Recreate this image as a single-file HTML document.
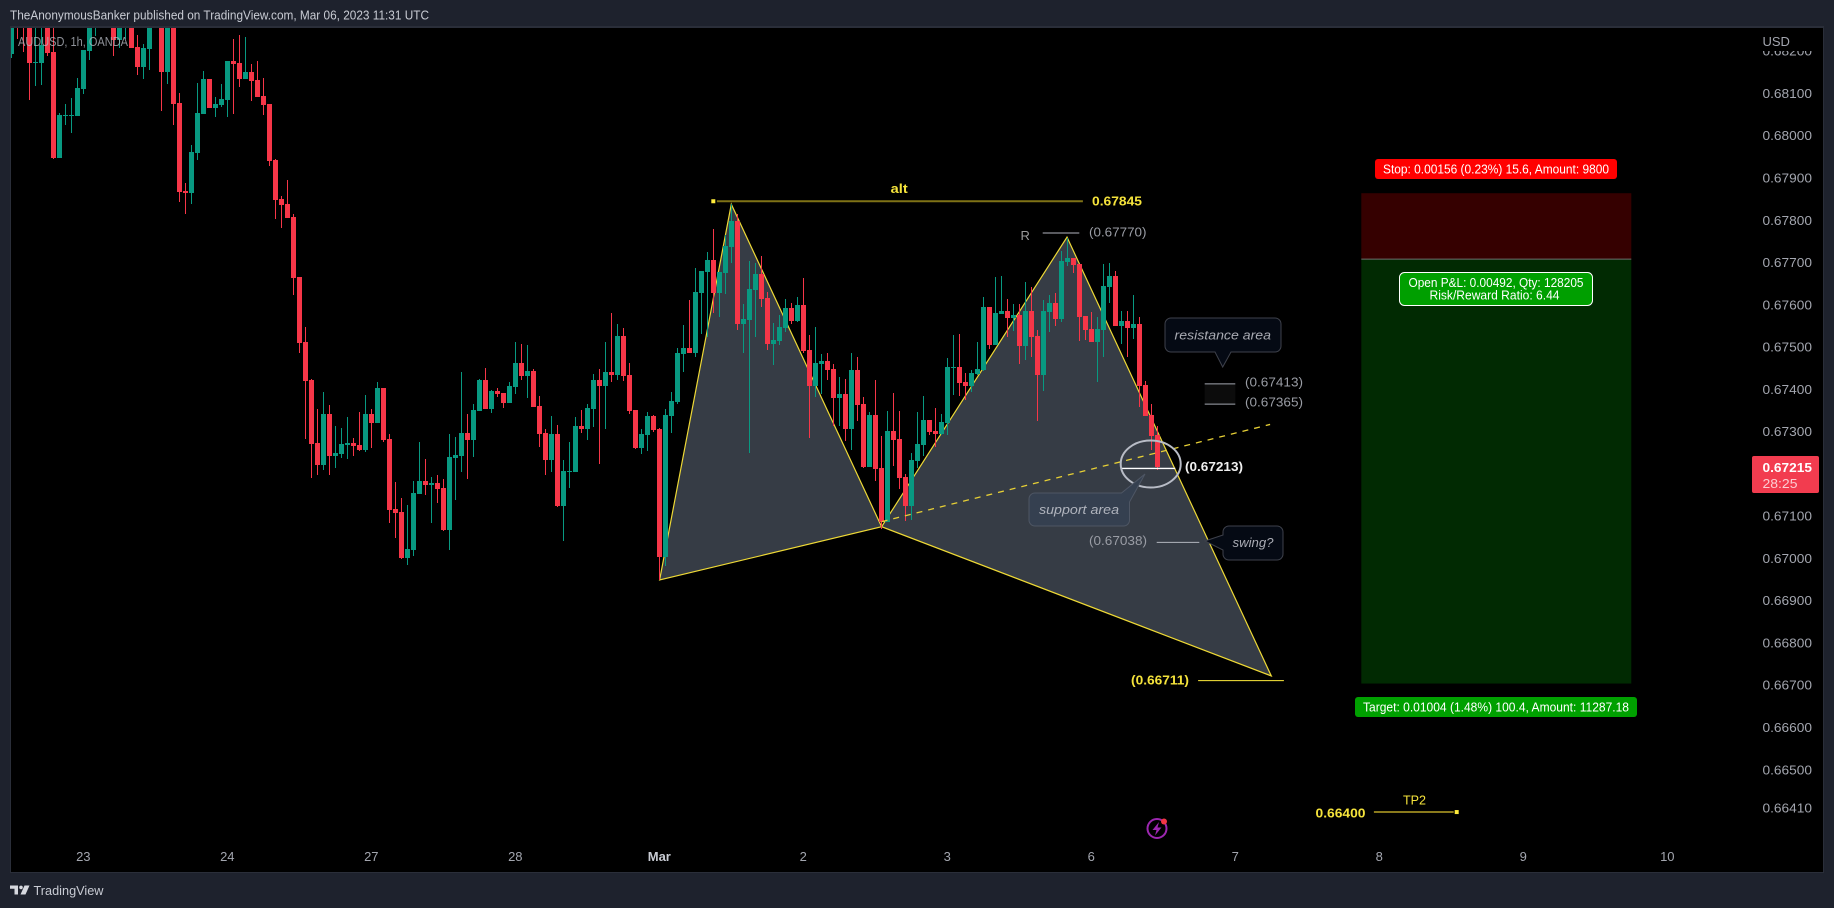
<!DOCTYPE html>
<html lang="en">
<head>
<meta charset="utf-8">
<title>AUDUSD 1h chart</title>
<style>
html,body{margin:0;padding:0;width:1834px;height:908px;overflow:hidden;background:#1e222d}
svg{display:block}
text{font-family:"Liberation Sans",sans-serif;font-size:13px}
</style>
</head>
<body>
<svg id="chart" xmlns="http://www.w3.org/2000/svg" width="1834" height="908" viewBox="0 0 1834 908">
  <defs><clipPath id="pane-clip"><rect x="11" y="28" width="1812" height="844"/></clipPath></defs>
  <rect x="0" y="0" width="1834" height="908" fill="#1e222d"/>
  <rect x="10" y="26" width="1814" height="847" fill="#2a2e39"/>
  <rect x="11" y="28" width="1812" height="844" fill="#000"/>
  <text x="10" y="19.5" textLength="419" lengthAdjust="spacingAndGlyphs" fill="#c8cbd3">TheAnonymousBanker published on TradingView.com, Mar 06, 2023 11:31 UTC</text>

  <g id="position-layer"></g>
  <g id="pattern-layer" clip-path="url(#pane-clip)"></g>
  <g id="candle-layer" clip-path="url(#pane-clip)" shape-rendering="crispEdges"></g>
  <g id="drawing-layer"></g>
  <g id="axis-layer"></g>

  <rect x="1755" y="29" width="66" height="22" fill="#000"/>
  <text x="1762.5" y="46" fill="#a3a6af">USD</text>
  <text x="18" y="46" textLength="110" lengthAdjust="spacingAndGlyphs" fill="#b2b5be" fill-opacity="0.8">AUDUSD, 1h, OANDA</text>

  <rect x="1375" y="159" width="242" height="20" rx="3" fill="#ff0000"/>
  <text x="1383" y="173.5" textLength="226" lengthAdjust="spacingAndGlyphs" fill="#fff">Stop: 0.00156 (0.23%) 15.6, Amount: 9800</text>
  <rect x="1399.5" y="272.5" width="193" height="33" rx="5" fill="#009f00" stroke="#fff"/>
  <text x="1408.5" y="287" textLength="175" lengthAdjust="spacingAndGlyphs" fill="#fff">Open P&amp;L: 0.00492, Qty: 128205</text>
  <text x="1429.5" y="299.5" textLength="130" lengthAdjust="spacingAndGlyphs" fill="#fff">Risk/Reward Ratio: 6.44</text>
  <rect x="1355" y="697" width="282" height="20" rx="3" fill="#00a000"/>
  <text x="1363" y="711.5" textLength="266" lengthAdjust="spacingAndGlyphs" fill="#fff">Target: 0.01004 (1.48%) 100.4, Amount: 11287.18</text>

  <text x="890.7" y="193" textLength="17" lengthAdjust="spacingAndGlyphs" font-weight="bold" fill="#f5e33b">alt</text>
  <text x="1092" y="205.5" textLength="50" lengthAdjust="spacingAndGlyphs" font-weight="bold" fill="#f5e33b">0.67845</text>
  <text x="1020.5" y="240" fill="#9a9a9a">R</text>
  <text x="1089" y="236.5" textLength="57.5" lengthAdjust="spacingAndGlyphs" fill="#9a9da5">(0.67770)</text>
  <text x="1245" y="386.5" textLength="58" lengthAdjust="spacingAndGlyphs" fill="#9a9da5">(0.67413)</text>
  <text x="1245" y="406.5" textLength="58" lengthAdjust="spacingAndGlyphs" fill="#9a9da5">(0.67365)</text>
  <text x="1185" y="471" textLength="58" lengthAdjust="spacingAndGlyphs" font-weight="bold" fill="#f0f0f0">(0.67213)</text>
  <text x="1089" y="545" textLength="58" lengthAdjust="spacingAndGlyphs" fill="#9a9da5">(0.67038)</text>
  <text x="1131" y="684.5" textLength="58" lengthAdjust="spacingAndGlyphs" font-weight="bold" fill="#f5e33b">(0.66711)</text>
  <text x="1403" y="804.5" textLength="23" lengthAdjust="spacingAndGlyphs" fill="#f5e33b">TP2</text>
  <text x="1315.5" y="817.5" textLength="50" lengthAdjust="spacingAndGlyphs" font-weight="bold" fill="#f5e33b">0.66400</text>

  <g>
    <path d="M1171 318H1275a6 6 0 0 1 6 6V346a6 6 0 0 1 -6 6H1231L1222.7 367L1215 352H1171a6 6 0 0 1 -6 -6V324a6 6 0 0 1 6 -6Z" fill="#050a14" stroke="#3e414b"/>
    <text x="1174.5" y="339.5" textLength="96.5" lengthAdjust="spacingAndGlyphs" font-style="italic" fill="#a9abb3">resistance area</text>
  </g>
  <g>
    <path d="M1035 493H1121.5L1145 474L1129.5 502V520a6 6 0 0 1 -6 6H1035a6 6 0 0 1 -6 -6V499a6 6 0 0 1 6 -6Z" fill="#354050" stroke="#4e5664"/>
    <text x="1039" y="514" textLength="80" lengthAdjust="spacingAndGlyphs" font-style="italic" fill="#b0b4bd">support area</text>
  </g>
  <g>
    <path d="M1229 526H1277a6 6 0 0 1 6 6V554a6 6 0 0 1 -6 6H1229a6 6 0 0 1 -6 -6V550L1205 541L1223 535V532a6 6 0 0 1 6 -6Z" fill="#050a14" stroke="#3e414b"/>
    <text x="1232.5" y="547" textLength="41" lengthAdjust="spacingAndGlyphs" font-style="italic" fill="#a9abb3">swing?</text>
  </g>

  <g>
    <rect x="1752" y="456" width="67" height="37" rx="2" fill="#f23c4f"/>
    <text x="1762.5" y="472" textLength="49.5" lengthAdjust="spacingAndGlyphs" font-weight="bold" font-size="13.5" fill="#fff">0.67215</text>
    <text x="1762.5" y="488" textLength="35" lengthAdjust="spacingAndGlyphs" fill="#fccdd2">28:25</text>
  </g>

  <g>
    <circle cx="1157" cy="828.5" r="9.5" fill="none" stroke="#9c27b0" stroke-width="2"/>
    <polygon points="1159,822 1152.5,830 1156.5,830 1155,835.5 1161.5,827.5 1157.5,827.5" fill="#9c27b0"/>
    <circle cx="1164" cy="821.5" r="3" fill="#f23645"/>
  </g>

  <g>
    <path d="M10 885.5H18V894.5H14.5V888.8H10Z" fill="#d6d8de"/>
    <circle cx="21" cy="887.4" r="1.8" fill="#d6d8de"/>
    <polygon points="24.5,885.5 29.5,885.5 25.5,894.5 20.5,894.5" fill="#d6d8de"/>
    <text x="33.5" y="895" textLength="70" lengthAdjust="spacingAndGlyphs" fill="#c8cbd3">TradingView</text>
  </g>
</svg>

<script>
// Prices are in points (1 point = 0.00001). Bars are numbered from 1, one bar per hour.
const opens = [
68193,68297,68297,68274,68173,68173,68297,68198,67947,68048,
68048,68047,68110,68201,68274,68274,68274,68286,68226,68274,
68286,68210,68163,68206,68274,68286,68151,68286,68077,67869,
67864,67959,68051,68134,68065,68073,68084,68177,68172,68134,
68151,68132,68094,68075,67942,67850,67838,67808,67666,67512,
67422,67273,67221,67342,67242,67247,67268,67273,67268,67256,
67342,67320,67403,67282,67117,67110,67001,67020,67152,67183,
67174,67178,67166,67067,67238,67242,67297,67280,67349,67422,
67353,67396,67391,67368,67405,67462,67432,67443,67361,67297,
67233,67294,67124,67204,67204,67313,67306,67353,67422,67408,
67441,67434,67526,67434,67351,67261,67292,67337,67306,67003,
67337,67370,67484,67498,67486,67628,67678,67706,67628,67675,
67737,67798,67555,67564,67635,67673,67616,67507,67514,67545,
67592,67562,67599,67493,67408,67460,67467,67448,67379,67389,
67306,67446,67365,67216,67339,67214,67086,67301,67282,67193,
67124,67230,67268,67327,67301,67294,67320,67452,67453,67417,
67408,67436,67446,67595,67505,67578,67585,67569,67576,67503,
67585,67526,67434,67583,67604,67566,67701,67711,67696,67573,
67543,67512,67540,67642,67668,67550,67562,67545,67555,67410,67339,67292];
const highs = [
68297,68309,68309,68297,68297,68297,68309,68297,68054,68075,
68089,68137,68203,68297,68297,68297,68297,68297,68297,68297,
68297,68238,68216,68297,68297,68297,68297,68297,68101,67888,
67978,68125,68153,68134,68092,68122,68177,68229,68238,68233,
68170,68177,68136,68075,67945,67857,67895,67815,67666,67547,
67424,67353,67394,67363,67313,67308,67335,67285,67346,67387,
67353,67417,67403,67294,67181,67143,67126,67183,67275,67235,
67193,67197,67188,67294,67287,67441,67342,67365,67424,67450,
67398,67403,67391,67417,67512,67507,67505,67448,67384,67306,
67337,67316,67233,67275,67335,67351,67365,67436,67448,67512,
67581,67555,67545,67462,67351,67306,67346,67339,67308,67353,
67394,67498,67552,67611,67687,67680,67725,67779,67678,67765,
67838,67815,67602,67704,67699,67715,67630,67557,67576,67614,
67604,67618,67663,67528,67547,67484,67486,67460,67429,67424,
67486,67476,67382,67346,67422,67290,67349,67391,67349,67200,
67249,67346,67384,67327,67356,67342,67474,67528,67531,67439,
67446,67512,67618,67595,67666,67668,67614,67602,67602,67654,
67642,67540,67611,67623,67628,67727,67758,67711,67696,67573,
67583,67571,67696,67699,67680,67585,67585,67623,67571,67420,67365,67313];
const lows = [
68184,68229,68198,68085,68118,68121,68189,67945,67947,68026,
68006,68047,68099,68179,68236,68269,68269,68189,68207,68229,
68208,68144,68135,68156,68269,68058,68122,68025,67843,67815,
67838,67942,68051,68065,68044,68068,68044,68051,68115,68134,
68082,68092,68049,67928,67803,67782,67805,67623,67486,67282,
67190,67197,67209,67197,67214,67238,67235,67242,67254,67252,
67261,67320,67275,67084,67048,66999,66984,67006,67152,67150,
67084,67131,67065,67020,67138,67204,67188,67240,67349,67353,
67344,67382,67356,67368,67389,67422,67379,67358,67264,67197,
67204,67122,67041,67166,67204,67297,67280,67311,67223,67306,
67417,67422,67420,67342,67259,67247,67254,67299,66949,66982,
67297,67365,67441,67486,67476,67531,67524,67580,67571,67625,
67699,67540,67486,67249,67524,67595,67493,67458,67505,67536,
67555,67559,67486,67285,67382,67389,67422,67313,67313,67278,
67256,67325,67214,67216,67183,67069,67086,67219,67164,67088,
67091,67214,67242,67292,67264,67292,67292,67387,67384,67375,
67394,67434,67443,67495,67505,67578,67524,67538,67460,67469,
67476,67325,67396,67536,67550,67559,67692,67675,67514,67517,
67512,67417,67476,67604,67550,67507,67476,67519,67358,67337,67256,67209];
const closes = [
68286,68274,68274,68173,68174,68215,68196,67947,68049,68050,
68050,68113,68203,68286,68286,68286,68286,68226,68286,68286,
68208,68163,68207,68286,68286,68151,68286,68075,67867,67864,
67961,68054,68134,68065,68075,68087,68177,68170,68134,68151,
68129,68092,68073,67940,67848,67836,67805,67663,67510,67420,
67271,67221,67342,67242,67249,67271,67273,67266,67256,67342,
67320,67403,67280,67114,67107,67001,67022,67155,67183,67174,
67178,67164,67067,67240,67245,67297,67280,67351,67422,67353,
67396,67389,67368,67408,67462,67432,67443,67358,67294,67233,
67294,67124,67207,67207,67313,67306,67356,67422,67408,67441,
67434,67526,67432,67349,67261,67294,67337,67304,67003,67339,
67372,67486,67498,67486,67630,67680,67706,67628,67678,67739,
67798,67555,67566,67637,67673,67614,67507,67517,67547,67592,
67562,67599,67491,67408,67462,67467,67446,67379,67389,67306,
67446,67363,67216,67339,67211,67086,67301,67280,67190,67124,
67233,67271,67327,67299,67294,67323,67453,67453,67415,67408,
67439,67448,67595,67505,67580,67585,67569,67576,67503,67585,
67524,67434,67585,67604,67566,67704,67711,67694,67571,67540,
67512,67543,67644,67668,67550,67562,67545,67555,67408,67337,67290,67216];

const priceTicks = [68200,68100,68000,67900,67800,67700,67600,67500,67400,67300,67100,67000,66900,66800,66700,66600,66500,66410];
const timeTickBars = [13,37,61,85,109,133,157,181,205,229,253,277];
const timeTickLabels = ['23','24','27','28','Mar','2','3','6','7','8','9','10'];

const patternBars = [109.05,121,146.05,176.95,211];
const patternPrices = [66949,67838,67075,67760,66722];

const stopPrice = 67864;
const entryPrice = 67708;
const targetPrice = 66704;
const positionStartBar = 226;
const positionEndBar = 271;

const NS = 'http://www.w3.org/2000/svg';
function xOf(bar){ return 5.3 + 6 * bar; }
function yOf(points){ return 178 + (67900 - points) * 0.4227; }
function colOf(bar){ return 5 + 6 * bar; }

function mk(parent, tag, attrs){
  const el = document.createElementNS(NS, tag);
  for (const key in attrs) el.setAttribute(key, attrs[key]);
  parent.appendChild(el);
  return el;
}

/* ---------- axes ---------- */
const axisLayer = document.getElementById('axis-layer');
priceTicks.forEach(function(v){
  const t = mk(axisLayer, 'text', {x:1762.5, y:yOf(v)+4.5, textLength:49.5, lengthAdjust:'spacingAndGlyphs', fill:'#a3a6af'});
  
  
  t.textContent = (v / 100000).toFixed(5);
});
timeTickBars.forEach(function(b, i){
  const label = timeTickLabels[i];
  const t = mk(axisLayer, 'text', {x:xOf(b), y:861, 'text-anchor':'middle', fill:label === 'Mar' ? '#c8cbd3' : '#a3a6af', 'font-weight':label === 'Mar' ? 'bold' : 'normal'});
  
  
  t.textContent = label;
});

/* ---------- long position tool ---------- */
const positionLayer = document.getElementById('position-layer');
const stopZone = mk(positionLayer, 'rect', {x:xOf(positionStartBar), y:yOf(stopPrice), width:xOf(positionEndBar)-xOf(positionStartBar), height:yOf(entryPrice)-yOf(stopPrice), fill:'#350000'});


const targetZone = mk(positionLayer, 'rect', {x:xOf(positionStartBar), y:yOf(entryPrice), width:xOf(positionEndBar)-xOf(positionStartBar), height:yOf(targetPrice)-yOf(entryPrice), fill:'#012a02'});


const entryLine = mk(positionLayer, 'line', {x1:xOf(positionStartBar), x2:xOf(positionEndBar), y1:yOf(entryPrice), y2:yOf(entryPrice), stroke:'#6e6e6e'});



/* ---------- harmonic pattern ---------- */
const patternLayer = document.getElementById('pattern-layer');
function pt(i){ return xOf(patternBars[i]) + ',' + yOf(patternPrices[i]); }
const wingLeft = mk(patternLayer, 'polygon', {points:[pt(0),pt(1),pt(2)].join(' '), fill:'#363c45', stroke:'#eed936', 'stroke-width':1.2});


const wingRight = mk(patternLayer, 'polygon', {points:[pt(2),pt(3),pt(4)].join(' '), fill:'#363c45', stroke:'#eed936', 'stroke-width':1.2});



/* ---------- candles ---------- */
const candleLayer = document.getElementById('candle-layer');
opens.forEach(function(open, i){
  const bar = i + 1;
  const close = closes[i];
  const colour = close >= open ? '#089981' : '#f63648';
  const col = colOf(bar);
  const top = Math.round(yOf(Math.max(open, close)));
  const bottom = Math.round(yOf(Math.min(open, close)));
  const hi = Math.round(yOf(highs[i]));
  const lo = Math.round(yOf(lows[i]));
  const wick = mk(candleLayer, 'rect', {x:col, y:hi, width:1, height:Math.max(1, lo-hi), fill:colour});
  
  
  const body = mk(candleLayer, 'rect', {x:col-2, y:top, width:5, height:Math.max(1, bottom-top), fill:colour});
  
  
});

/* ---------- drawings ---------- */
const drawingLayer = document.getElementById('drawing-layer');
function level(name, price, barA, barB, colour, width){
  const l = mk(drawingLayer, 'line', {x1:xOf(barA), x2:xOf(barB), y1:yOf(price), y2:yOf(price), stroke:colour, 'stroke-width':width});
  
  
  return l;
}
const resistanceBand = mk(drawingLayer, 'rect', {x:xOf(199.9), y:yOf(67413), width:xOf(205)-xOf(199.9), height:yOf(67365)-yOf(67413), fill:'#0c0c0c'});



level('alt-line', 67845, 118.6, 179.6, '#7f7216', 2);
level('level-67770-line', 67770, 172.9, 179, '#b2b5be', 1);
level('level-67413-line', 67413, 199.9, 205, '#a3a6af', 1);
level('level-67365-line', 67365, 199.9, 205, '#a3a6af', 1);
level('level-67213-line', 67213, 186.1, 195, '#ffffff', 1.4);
level('level-67038-line', 67038, 191.9, 199, '#b2b5be', 1);
level('level-66711-line', 66711, 198.8, 213.1, '#ffeb3b', 1);
level('tp2-line', 66400, 228.1, 241.4, '#8a7a1c', 2);

const trendBars = [146.05, 210.8];
const trendPrices = [67087, 67317];
const trendline = mk(drawingLayer, 'line', {x1:xOf(trendBars[0]), y1:yOf(trendPrices[0]), x2:xOf(trendBars[1]), y2:yOf(trendPrices[1]), stroke:'#e6cf35', 'stroke-width':1.3, 'stroke-dasharray':'6 6'});



const altDot = mk(drawingLayer, 'rect', {x:xOf(118)-2, y:yOf(67845)-2, width:4, height:4, fill:'#ffeb3b'});


const tpDot = mk(drawingLayer, 'rect', {x:xOf(241.9)-2, y:yOf(66400)-2, width:4, height:4, fill:'#ffeb3b'});



const supportRing = mk(drawingLayer, 'ellipse', {cx:1150.7, cy:464, rx:30, ry:23.5, fill:'none', stroke:'#b8bcc6', 'stroke-width':2});


</script>
</body>
</html>
